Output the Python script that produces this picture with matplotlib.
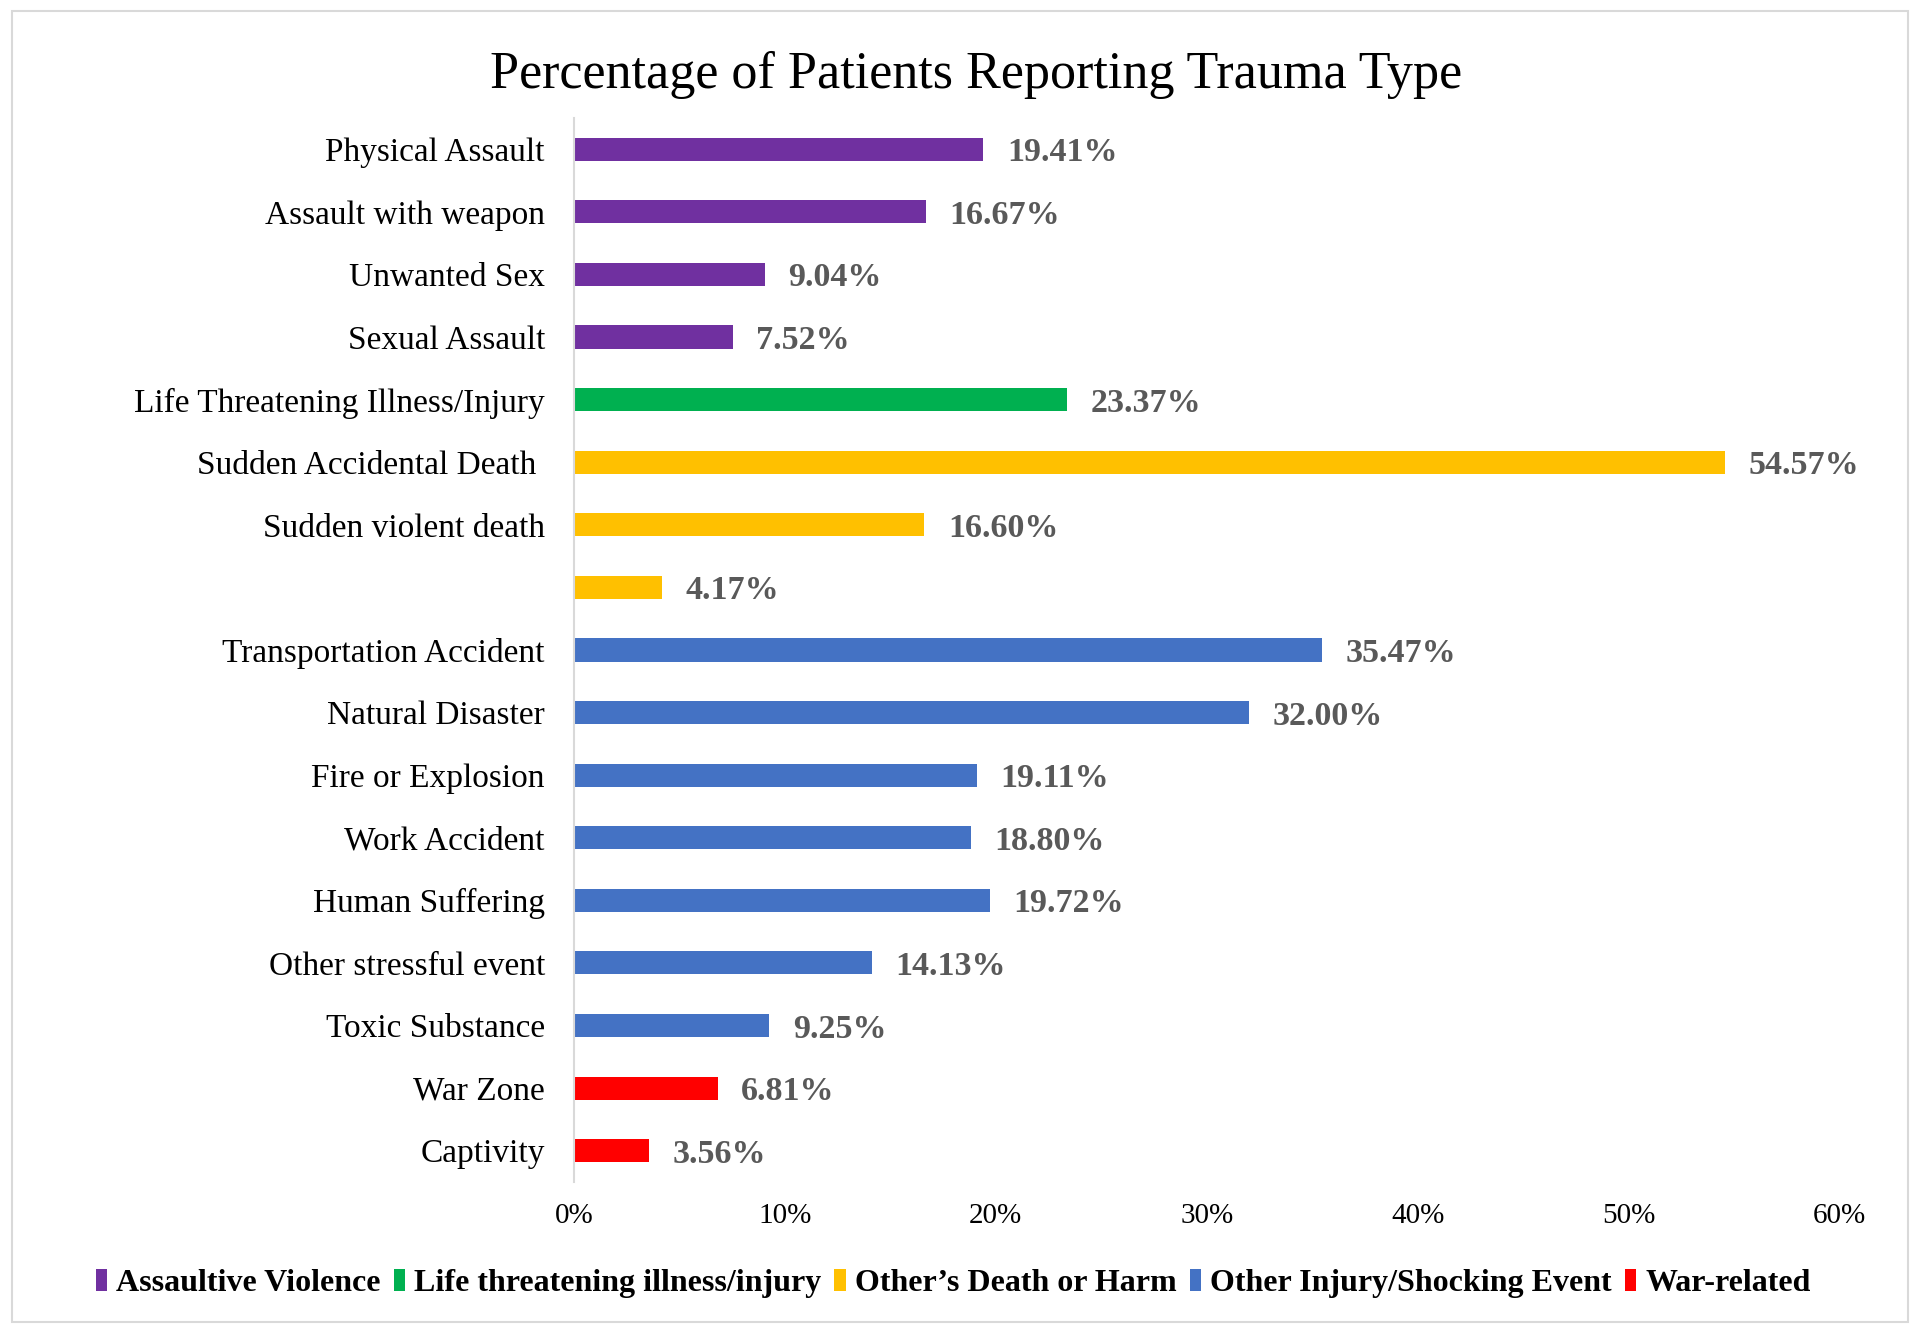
import matplotlib.pyplot as plt
import numpy as np
from matplotlib.patches import Patch, Rectangle

plt.rcParams['font.family'] = ['Liberation Serif', 'DejaVu Serif']

# Data
labels = ['Physical Assault', 'Assault with weapon', 'Unwanted Sex', 'Sexual Assault',
          'Life Threatening Illness/Injury', 'Sudden Accidental Death ', 'Sudden violent death',
          '', 'Transportation Accident', 'Natural Disaster', 'Fire or Explosion',
          'Work Accident', 'Human Suffering', 'Other stressful event', 'Toxic Substance',
          'War Zone', 'Captivity']
values = [19.41, 16.67, 9.04, 7.52, 23.37, 54.57, 16.60, 4.17, 35.47, 32.00,
          19.11, 18.80, 19.72, 14.13, 9.25, 6.81, 3.56]
groups = ['Assaultive Violence'] * 4 + ['Life threatening illness/injury'] + \
         ["Other\u2019s Death or Harm"] * 3 + ['Other Injury/Shocking Event'] * 7 + \
         ['War-related'] * 2

group_names = ['Assaultive Violence', 'Life threatening illness/injury',
               "Other\u2019s Death or Harm", 'Other Injury/Shocking Event', 'War-related']
group_colors = ['#7030A0', '#00B050', '#FFC000', '#4472C4', '#FF0000']
cmap = dict(zip(group_names, group_colors))

fig = plt.figure(figsize=(19.2, 13.3), dpi=100)
ax = fig.add_axes([0.299, 0.1113, 0.659, 0.8])

y = np.arange(len(labels))
bars = ax.barh(y, values, height=0.37, color=[cmap[g] for g in groups])

ax.set_ylim(len(labels) - 0.5, -0.5)
ax.set_yticks(y)
ax.set_yticklabels(labels, fontsize=24)
ax.set_xlim(0, 60)
ax.set_xticks(np.arange(0, 61, 10))
ax.set_xticklabels([f'{v}%' for v in range(0, 61, 10)], fontsize=21)
ax.tick_params(axis='y', length=0, pad=21)
ax.tick_params(axis='x', length=0, pad=15)

for s in ['top', 'right', 'bottom']:
    ax.spines[s].set_visible(False)
ax.spines['left'].set_color('#D9D9D9')
ax.spines['left'].set_linewidth(1.5)

# Value labels
for bar, val in zip(bars, values):
    ax.annotate(f'{val:.2f}%', (val, bar.get_y() + bar.get_height() / 2),
                xytext=(17, 0), textcoords='offset points', va='center_baseline', ha='left',
                fontsize=24.5, fontweight='bold', color='#595959')

fig.text(0.5086, 0.944, 'Percentage of Patients Reporting Trauma Type',
         ha='center', va='center', fontsize=37.5)

handles = [Patch(facecolor=c, label=n) for n, c in zip(group_names, group_colors)]
fig.legend(handles=handles, loc='center', bbox_to_anchor=(0.4965, 0.035), ncol=5,
           frameon=False, handlelength=0.35, handleheight=0.7, handletextpad=0.3,
           columnspacing=0.4, prop={'size': 23, 'weight': 'bold'})

# Outer frame
fig.patches.append(Rectangle((0.006, 0.006), 0.988, 0.986, transform=fig.transFigure,
                             fill=False, edgecolor='#D9D9D9', linewidth=1.5))

fig.savefig('out.png', dpi=100, facecolor='white')
